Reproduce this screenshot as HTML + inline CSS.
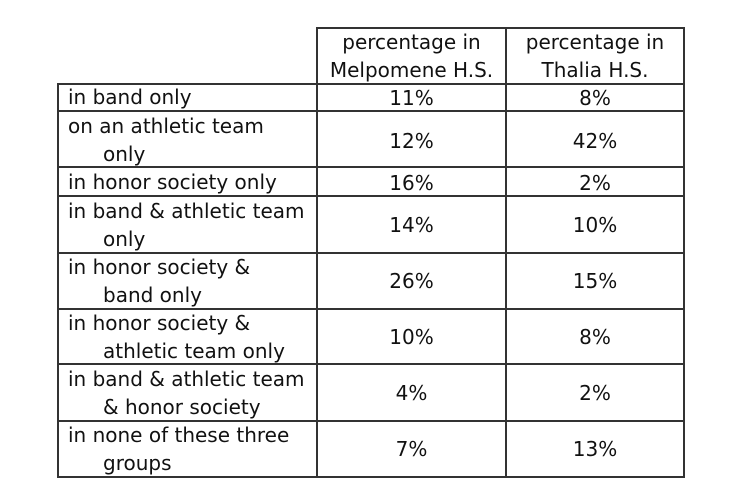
<!DOCTYPE html>
<html><head><style>
body{margin:0;width:743px;height:498px;background:#fff;position:relative;font-family:"DejaVu Sans","Liberation Sans",sans-serif;color:#111;font-size:20px;overflow:hidden}
.l{position:absolute;background:#333}
.t{position:absolute;white-space:nowrap;line-height:28px}
.t span{display:block;padding-left:35px}
.c{position:absolute;text-align:center;line-height:28px}
</style></head><body>
<div class="l" style="left:317px;top:27px;width:368px;height:2px"></div>
<div class="l" style="left:57px;top:83px;width:628px;height:2px"></div>
<div class="l" style="left:57px;top:110px;width:628px;height:2px"></div>
<div class="l" style="left:57px;top:166px;width:628px;height:2px"></div>
<div class="l" style="left:57px;top:195px;width:628px;height:2px"></div>
<div class="l" style="left:57px;top:252px;width:628px;height:2px"></div>
<div class="l" style="left:57px;top:308px;width:628px;height:2px"></div>
<div class="l" style="left:57px;top:363px;width:628px;height:2px"></div>
<div class="l" style="left:57px;top:420px;width:628px;height:2px"></div>
<div class="l" style="left:57px;top:476px;width:628px;height:2px"></div>
<div class="l" style="left:57px;top:83px;width:2px;height:395px"></div>
<div class="l" style="left:316px;top:27px;width:2px;height:451px"></div>
<div class="l" style="left:505px;top:27px;width:2px;height:451px"></div>
<div class="l" style="left:683px;top:27px;width:2px;height:451px"></div>

<div class="c" style="left:318px;width:187px;top:28px">percentage in<br>Melpomene H.S.</div>
<div class="c" style="left:507px;width:176px;top:28px">percentage in<br>Thalia H.S.</div>

<div class="t" style="left:68px;top:83px">in band only</div>
<div class="t" style="left:68px;top:112px">on an athletic team<span>only</span></div>
<div class="t" style="left:68px;top:168px">in honor society only</div>
<div class="t" style="left:68px;top:197px">in band &amp; athletic team<span>only</span></div>
<div class="t" style="left:68px;top:253px">in honor society &amp;<span>band only</span></div>
<div class="t" style="left:68px;top:309px">in honor society &amp;<span>athletic team only</span></div>
<div class="t" style="left:68px;top:365px">in band &amp; athletic team<span>&amp; honor society</span></div>
<div class="t" style="left:68px;top:421px">in none of these three<span>groups</span></div>

<div class="c" style="left:318px;width:187px;top:84px">11%</div>
<div class="c" style="left:507px;width:176px;top:84px">8%</div>
<div class="c" style="left:318px;width:187px;top:127px">12%</div>
<div class="c" style="left:507px;width:176px;top:127px">42%</div>
<div class="c" style="left:318px;width:187px;top:169px">16%</div>
<div class="c" style="left:507px;width:176px;top:169px">2%</div>
<div class="c" style="left:318px;width:187px;top:211px">14%</div>
<div class="c" style="left:507px;width:176px;top:211px">10%</div>
<div class="c" style="left:318px;width:187px;top:267px">26%</div>
<div class="c" style="left:507px;width:176px;top:267px">15%</div>
<div class="c" style="left:318px;width:187px;top:323px">10%</div>
<div class="c" style="left:507px;width:176px;top:323px">8%</div>
<div class="c" style="left:318px;width:187px;top:379px">4%</div>
<div class="c" style="left:507px;width:176px;top:379px">2%</div>
<div class="c" style="left:318px;width:187px;top:435px">7%</div>
<div class="c" style="left:507px;width:176px;top:435px">13%</div>
</body></html>
